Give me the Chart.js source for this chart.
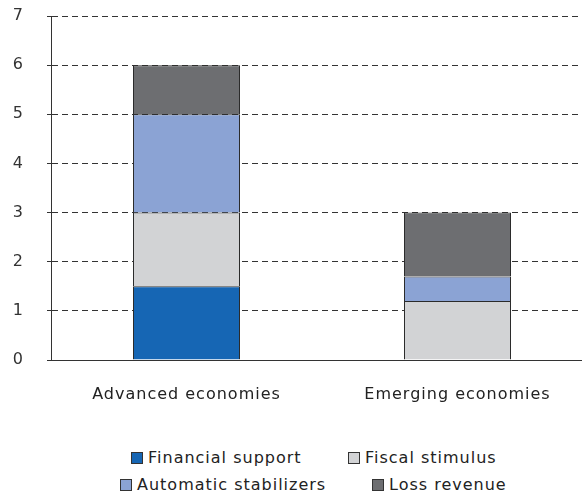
<!DOCTYPE html>
<html>
<head>
<meta charset="utf-8">
<script src="https://cdn.jsdelivr.net/npm/chart.js@4.4.1/dist/chart.umd.min.js"></script>
<style>
  html, body { margin: 0; padding: 0; background: #fff; overflow: hidden; }
  #wrap { position: relative; width: 582px; height: 497px; overflow: hidden; }
  #box { position: absolute; left: 0; top: 0; width: 620px; height: 420px; }
  .legend { position: absolute; font-family: "DejaVu Sans", sans-serif; font-size: 16px; letter-spacing: 1px; color: #222; white-space: nowrap; }
  .legend span.sw { display: inline-block; width: 10px; height: 10px; border: 1px solid #333; margin-right: 5px; vertical-align: -1px; }
</style>
</head>
<body>
<div id="wrap">
  <div id="box"><canvas id="barChart"></canvas></div>
  <div id="legendBox"></div>
</div>
<script>
// categorías y series (puntos del PIB)
const categorias = ['Advanced economies', 'Emerging economies'];
const financialSupport = [1.5, 0];
const fiscalStimulus = [1.5, 1.2];
const automaticStabilizers = [2, 0.5];
const lossRevenue = [1, 1.3];
const yTicks = [0, 1, 2, 3, 4, 5, 6, 7];

const series = [
    { label: 'Financial support', data: financialSupport, color: '#1666B4' },
    { label: 'Fiscal stimulus', data: fiscalStimulus, color: '#D2D3D5' },
    { label: 'Automatic stabilizers', data: automaticStabilizers, color: '#8BA3D4' },
    { label: 'Loss revenue', data: lossRevenue, color: '#6D6E71' }
];

// posiciones de la leyenda (dos filas)
const legendPos = [
    { left: 131, top: 448 },
    { left: 348, top: 448 },
    { left: 120, top: 475 },
    { left: 372, top: 475 }
];

// espaciado entre letras para los textos del canvas
const spacingPlugin = {
    id: 'spacing',
    beforeDraw(chart) { chart.ctx.letterSpacing = '1px'; }
};

function renderLegend() {
    const box = document.getElementById('legendBox');
    series.forEach((s, i) => {
        const el = document.createElement('div');
        el.className = 'legend';
        el.style.left = legendPos[i].left + 'px';
        el.style.top = legendPos[i].top + 'px';
        el.innerHTML = `<span class="sw" style="background:${s.color}"></span>${s.label}`;
        box.appendChild(el);
    });
}

function renderBarChart() {
    const ctx = document.getElementById('barChart').getContext('2d');
    return new Chart(ctx, {
        type: 'bar',
        data: {
            labels: categorias,
            datasets: series.map(s => ({
                label: s.label,
                data: s.data,
                backgroundColor: s.color,
                borderColor: '#2b2b2b',
                borderWidth: 1,
                inflateAmount: 0,
                barThickness: 107
            }))
        },
        options: {
            responsive: true,
            maintainAspectRatio: false,
            animation: false,
            layout: { padding: { top: 0, right: 27, left: 0, bottom: 0 } },
            plugins: {
                legend: { display: false },
                tooltip: { enabled: false }
            },
            scales: {
                x: {
                    stacked: true,
                    grid: { display: false, drawTicks: false },
                    border: { color: '#333333', width: 1 },
                    ticks: {
                        padding: 25,
                        color: '#222',
                        font: { family: 'DejaVu Sans', size: 16 }
                    },
                    afterFit: scale => { scale.height = 60; }
                },
                y: {
                    stacked: true,
                    min: 0,
                    max: 7,
                    afterBuildTicks: scale => { scale.ticks = yTicks.map(v => ({ value: v })); },
                    grid: {
                        color: '#333333',
                        lineWidth: 1,
                        tickLength: 4,
                        tickBorderDash: []
                    },
                    border: { color: '#333333', width: 1, dash: [6, 4] },
                    ticks: {
                        padding: 23,
                        color: '#333',
                        font: { family: 'DejaVu Sans', size: 16 }
                    },
                    afterFit: scale => {
                        scale.width = 51;
                        scale.paddingTop = 16;
                        scale.paddingBottom = 0;
                    }
                }
            }
        },
        plugins: [spacingPlugin]
    });
}

renderLegend();
renderBarChart();
</script>
</body>
</html>
